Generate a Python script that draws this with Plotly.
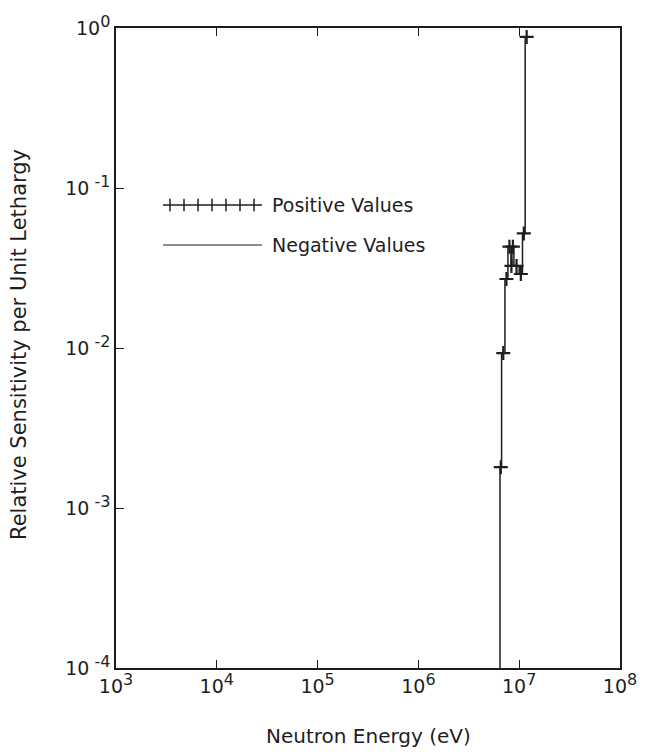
import numpy as np
import plotly.graph_objects as go

# Energy group boundaries (eV) and relative sensitivity per unit lethargy
group_bounds = [6.45e6, 6.69e6, 7.22e6, 7.73e6, 8.28e6, 8.47e6, 8.86e6, 1.0e7, 1.078e7, 1.146e7, 1.227e7]
sensitivity = [0.0018, 0.0093, 0.027, 0.043, 0.0326, 0.043, 0.0326, 0.029, 0.052, 0.88]
floor_value = 1e-4

x_tick_vals = [1e3, 1e4, 1e5, 1e6, 1e7, 1e8]
x_tick_exps = ["3", "4", "5", "6", "7", "8"]
y_tick_vals = [1e-4, 1e-3, 1e-2, 1e-1, 1e0]
y_tick_exps = [" -4", " -3", " -2", " -1", "0"]

legend_labels = ["Positive Values", "Negative Values"]
x_title = "Neutron Energy (eV)"
y_title = "Relative Sensitivity per Unit Lethargy"

ink = "#1e1e1e"
font = "DejaVu Sans"
W, H = 648, 754
L, R, T, B = 116, 28, 28, 86
pw, ph = W - L - R, H - T - B


def px_x(p):
    return (p - L) / pw


def px_y(p):
    return (H - B - p) / ph


def pow_label(e):
    return '10<sup><span style="font-size:16px">' + e + '</span></sup>'


# step path
step_x = [group_bounds[0]] + group_bounds[:-1] + [group_bounds[-1]]
step_y = [floor_value] + sensitivity + [sensitivity[-1]]
mid_x = [float(np.sqrt(a * b)) for a, b in zip(group_bounds[:-1], group_bounds[1:])]

fig = go.Figure()
fig.add_trace(go.Scatter(x=step_x, y=step_y, mode="lines", line=dict(color=ink, width=1.5, shape="hv"),
                         showlegend=False, hoverinfo="skip"))
fig.add_trace(go.Scatter(x=mid_x, y=sensitivity, mode="markers",
                         marker=dict(symbol="cross-thin", size=10, line=dict(color=ink, width=2.2)),
                         showlegend=False))

# hand-drawn legend on an overlay linear axis
leg_x0, leg_x1 = px_x(163), px_x(262)
leg_y_pos, leg_y_neg = px_y(205), px_y(245)
cross_x = list(np.linspace(px_x(170), px_x(254), 7))
fig.add_trace(go.Scatter(x=[leg_x0, leg_x1], y=[leg_y_pos, leg_y_pos], mode="lines",
                         line=dict(color=ink, width=1.4), xaxis="x2", yaxis="y2", showlegend=False))
fig.add_trace(go.Scatter(x=cross_x, y=[leg_y_pos] * len(cross_x), mode="markers",
                         marker=dict(symbol="line-ns", size=9, line=dict(color=ink, width=1.5)),
                         xaxis="x2", yaxis="y2", showlegend=False))
fig.add_trace(go.Scatter(x=[leg_x0, leg_x1], y=[leg_y_neg, leg_y_neg], mode="lines",
                         line=dict(color=ink, width=1.2), xaxis="x2", yaxis="y2", showlegend=False))

for lab, yy in zip(legend_labels, [leg_y_pos, leg_y_neg]):
    fig.add_annotation(x=px_x(270), y=yy, xref="paper", yref="paper", text=lab, showarrow=False,
                       xanchor="left", yanchor="middle", font=dict(family=font, size=19, color=ink))

fig.add_annotation(x=px_x(368), y=px_y(736), xref="paper", yref="paper", text=x_title, showarrow=False,
                   xanchor="center", yanchor="middle", font=dict(family=font, size=20, color=ink))
fig.add_annotation(x=px_x(19), y=px_y(345), xref="paper", yref="paper", text=y_title, showarrow=False,
                   textangle=-90, xanchor="center", yanchor="middle", font=dict(family=font, size=21, color=ink))

fig.update_layout(
    width=W, height=H,
    margin=dict(l=L, r=R, t=T, b=B),
    paper_bgcolor="white", plot_bgcolor="white",
    font=dict(family=font, color=ink),
    xaxis=dict(type="log", range=[3, 8], tickvals=x_tick_vals, ticktext=[pow_label(e) for e in x_tick_exps],
               ticks="inside", ticklen=8, tickwidth=1.3, tickcolor=ink,
               showline=True, linecolor=ink, linewidth=1.6, mirror="allticks",
               showgrid=False, zeroline=False, tickfont=dict(size=19)),
    yaxis=dict(type="log", range=[-4, 0], tickvals=y_tick_vals, ticktext=[pow_label(e) for e in y_tick_exps],
               ticks="inside", ticklen=8, tickwidth=1.3, tickcolor=ink,
               showline=True, linecolor=ink, linewidth=1.6, mirror=True,
               showgrid=False, zeroline=False, tickfont=dict(size=19)),
    xaxis2=dict(overlaying="x", range=[0, 1], visible=False),
    yaxis2=dict(overlaying="y", range=[0, 1], visible=False),
)

fig.write_html("out.html")
